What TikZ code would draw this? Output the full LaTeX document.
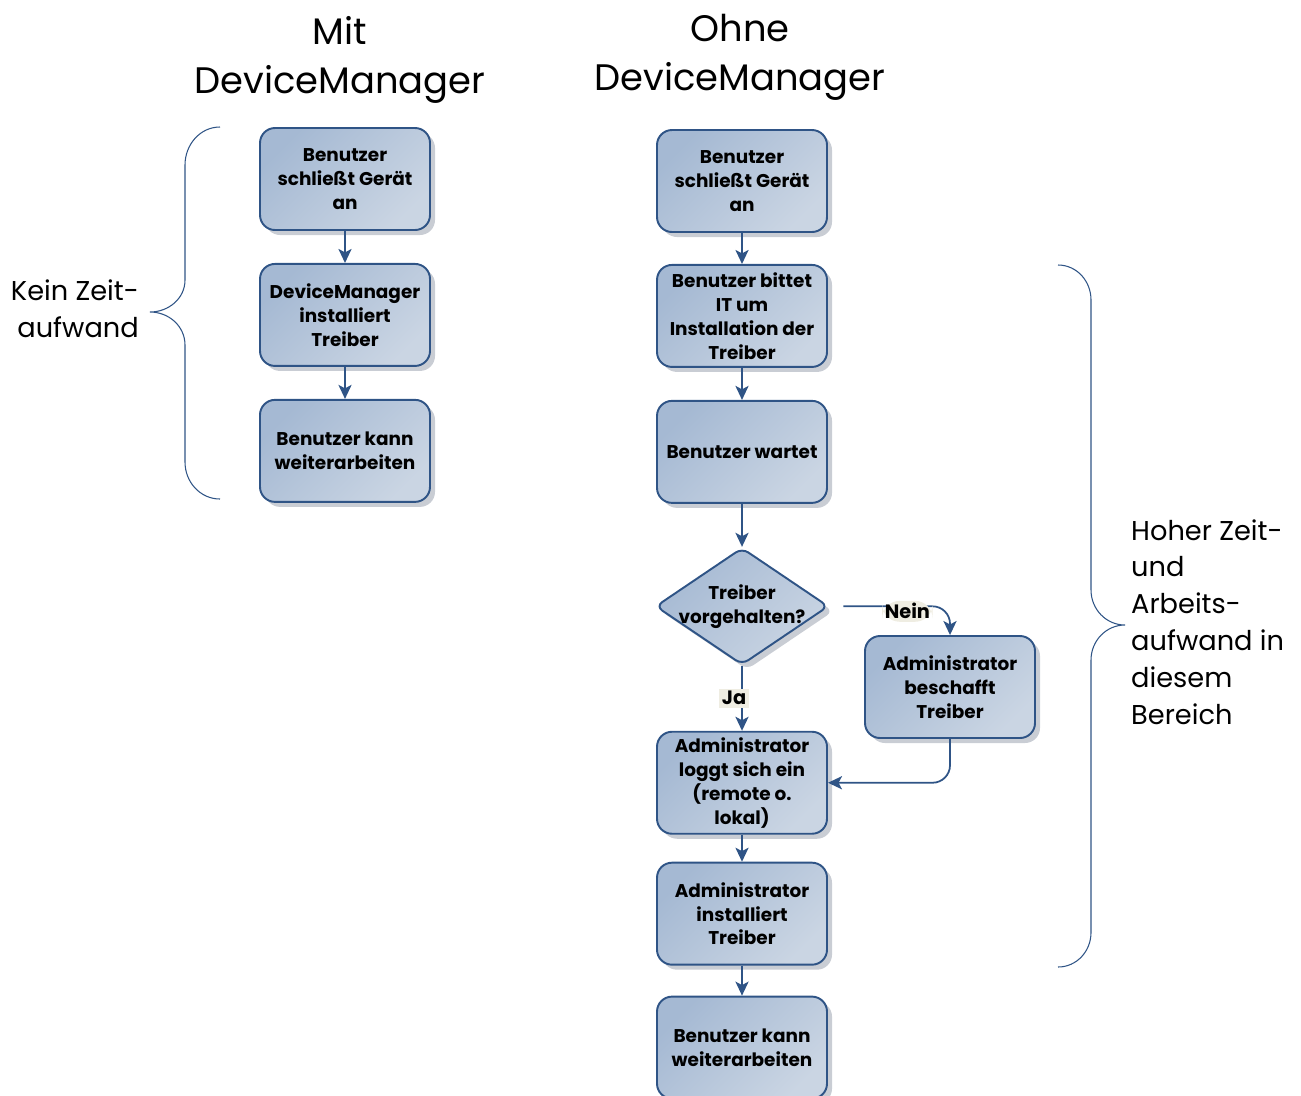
\documentclass[tikz,border=0pt]{standalone}
\usepackage{fontspec}
\setmainfont{Poppins}
\usepackage{xcolor}
\usetikzlibrary{shapes,arrows.meta,positioning,shadows}

\definecolor{boxline}{HTML}{2F5486}
\definecolor{boxtop}{HTML}{A5B9D3}
\definecolor{boxbot}{HTML}{CAD5E3}
\definecolor{shade}{HTML}{C9CDD4}
\definecolor{tagbg}{HTML}{EFEDE2}

\begin{document}
\begin{tikzpicture}[node distance=0.64cm, auto,
  box/.style={draw=boxline, line width=1.1pt, rectangle, rounded corners=0.3cm,
    minimum width=3.4cm, minimum height=2.04cm, align=center, inner sep=1pt,
    top color=boxtop, bottom color=boxbot, shading angle=45,
    font=\fontsize{10.5}{13.6}\selectfont\bfseries,
    drop shadow={shadow xshift=0.1cm, shadow yshift=-0.1cm, fill=shade, opacity=1}},
  decision/.style={draw=boxline, line width=1.1pt, diamond, rounded corners=0.15cm,
    minimum width=3.46cm, minimum height=2.34cm, inner sep=0pt,
    top color=boxtop, bottom color=boxbot, shading angle=45,
    drop shadow={shadow xshift=0.1cm, shadow yshift=-0.1cm, fill=shade, opacity=1}},
  arr/.style={draw=boxline, line width=1pt, -{Stealth[length=8pt,width=7.5pt,inset=2pt]}},
  lbl/.style={auto=false, fill=tagbg, inner sep=1.5pt, font=\fontsize{11}{13}\selectfont\bfseries},
  brace/.style={draw=boxline, line width=0.6pt},
  title/.style={align=center, font=\fontsize{21}{28}\selectfont},
  note/.style={font=\fontsize{15.5}{21}\selectfont}]

\useasboundingbox (0,0) rectangle (26.02,-21.9);

% titles
\node (mit) [title] at (6.8,-1.2) {Mit\\DeviceManager};
\node (ohne) [title] at (14.8,-1.15) {Ohne\\DeviceManager};

% with DeviceManager
\node (a1) [box] at (6.9,-3.58) {Benutzer\\schließt Gerät\\an};
\node (a2) [box, below=of a1] {DeviceManager\\installiert\\Treiber};
\node (a3) [box, below=of a2] {Benutzer kann\\weiterarbeiten};

\draw[arr] (a1) -- (a2);
\draw[arr] (a2) -- (a3);

% without DeviceManager
\node (b1) [box] at (14.84,-3.62) {Benutzer\\schließt Gerät\\an};
\node (b2) [box, below=0.62cm of b1] {Benutzer bittet\\IT um\\Installation der\\Treiber};
\node (b3) [box, below=0.64cm of b2] {Benutzer wartet};
\node (q) [decision, below=0.86cm of b3,
  label={[align=center, font=\fontsize{10.5}{13.6}\selectfont\bfseries]center:Treiber\\vorgehalten?}] {};
\node (b4) [box, below=1.30cm of q] {Administrator\\loggt sich ein\\(remote o.\\lokal)};
\node (b5) [box, below=0.54cm of b4] {Administrator\\installiert\\Treiber};
\node (b6) [box, below=0.60cm of b5] {Benutzer kann\\weiterarbeiten};
\node (side) [box] at (19.0,-13.74) {Administrator\\beschafft\\Treiber};

\draw[arr] (b1) -- (b2);
\draw[arr] (b2) -- (b3);
\draw[arr] (b3) -- (q);
\draw[arr] (q) -- (b4) node[lbl, pos=0.5, xshift=-0.16cm] {Ja};
\draw[arr] (b4) -- (b5);
\draw[arr] (b5) -- (b6);
\draw[arr, rounded corners=0.35cm] ([xshift=0.28cm]q.east) -| (side.north)
  node[lbl, pos=0.3, yshift=-0.1cm] {Nein};
\draw[arr, rounded corners=0.35cm] (side.south) |- (b4.east);

% braces
\draw[brace] (4.4,-2.54) to[out=180,in=90] (3.7,-3.3) -- (3.7,-5.6)
  to[out=-90,in=0] (3.0,-6.24) to[out=0,in=90] (3.7,-6.9) -- (3.7,-9.24)
  to[out=-90,in=180] (4.4,-9.98);
\node (kein) [note, align=right, anchor=east] at (2.9,-6.17) {Kein Zeit-\\aufwand};

\draw[brace] (21.16,-5.3) to[out=0,in=90] (21.82,-6.0) -- (21.82,-11.8)
  to[out=-90,in=180] (22.5,-12.5) to[out=180,in=90] (21.82,-13.2) -- (21.82,-18.65)
  to[out=-90,in=0] (21.16,-19.34);
\node (hoch) [note, align=left, anchor=west] at (22.5,-12.44) {Hoher Zeit-\\und\\Arbeits-\\aufwand in\\diesem\\Bereich};
\end{tikzpicture}
\end{document}
